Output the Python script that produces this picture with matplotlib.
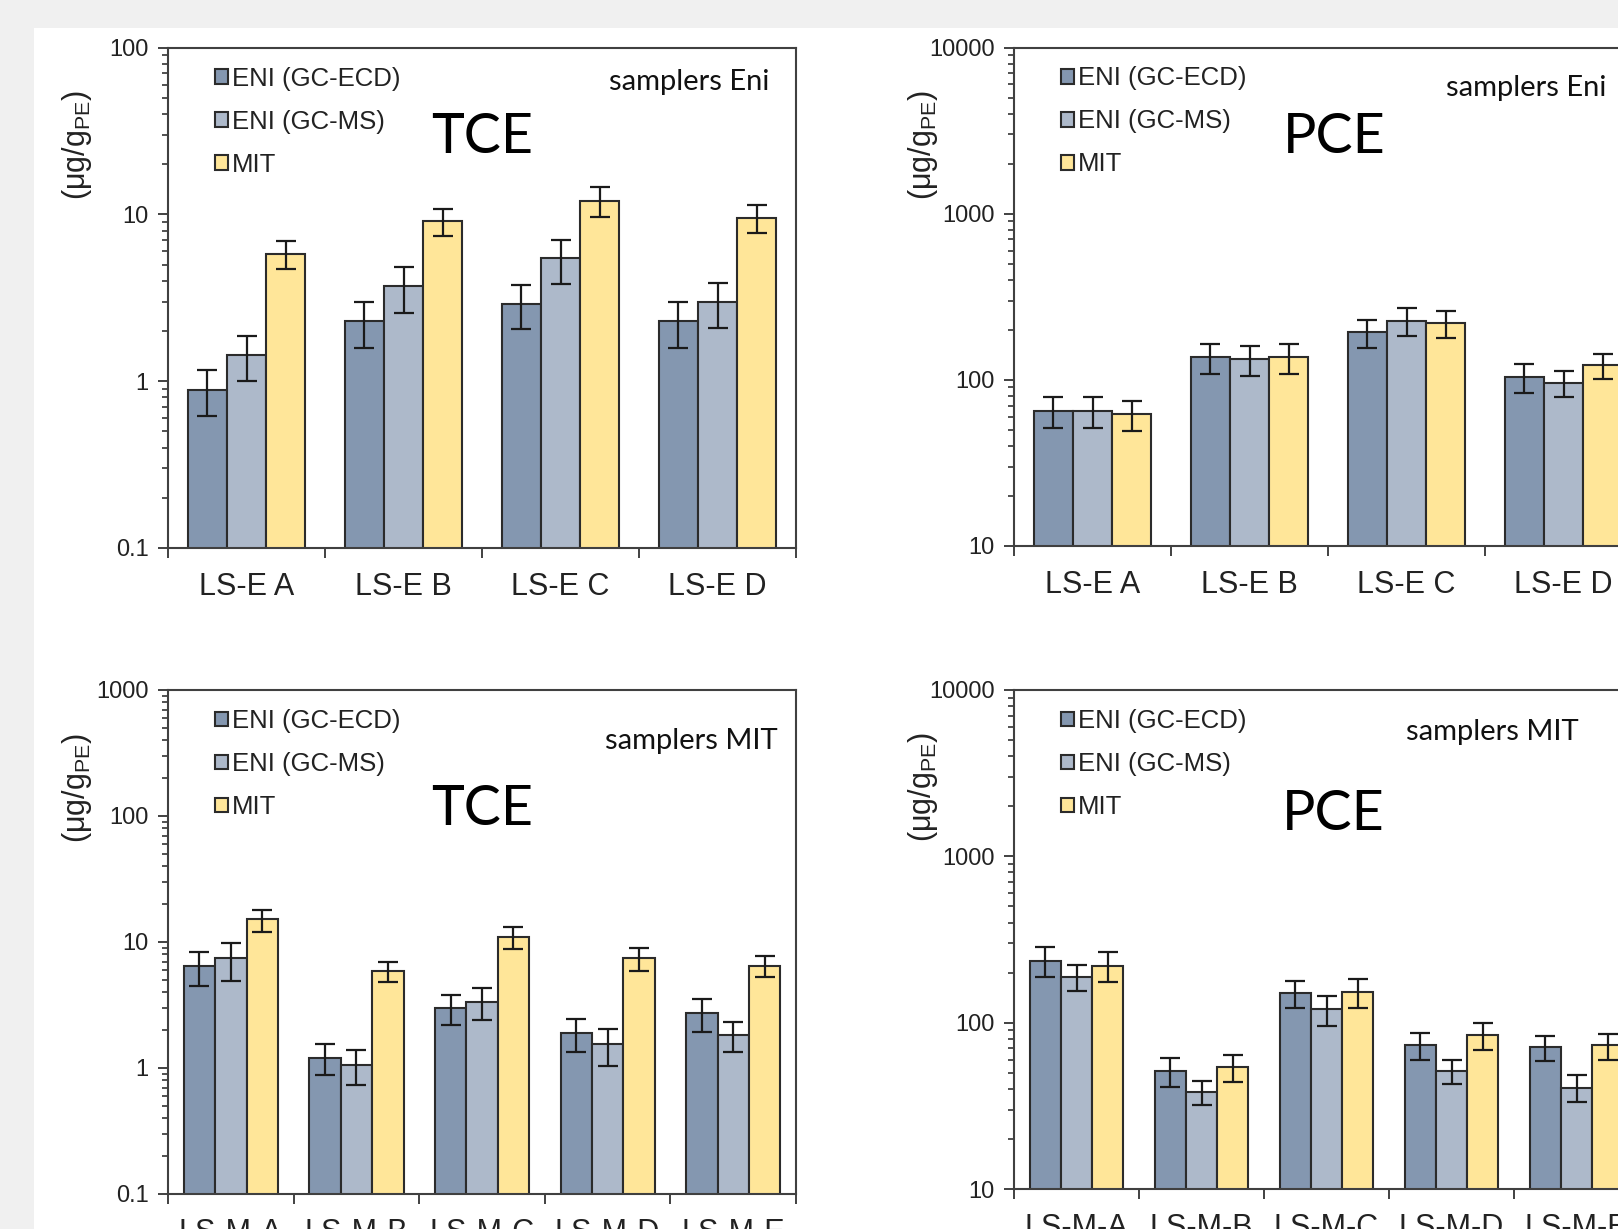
import numpy as np
import matplotlib
matplotlib.use("Agg")
from matplotlib import pyplot as plt
from matplotlib.patches import Rectangle
from matplotlib.ticker import LogLocator, FixedLocator, NullFormatter, FuncFormatter

# series names and colours
series = ["ENI (GC-ECD)", "ENI (GC-MS)", "MIT"]
colors = ["#8497b0", "#adb9ca", "#ffe699"]

# samplers Eni
cats_eni = ["LS-E A", "LS-E B", "LS-E C", "LS-E D"]
tce_eni_ecd = [0.89, 2.28, 2.91, 2.28]
tce_eni_ms = [1.43, 3.71, 5.44, 2.99]
tce_eni_mit = [5.8, 9.1, 12.1, 9.5]
tce_eni_ecd_err = [0.27, 0.7, 0.85, 0.7]
tce_eni_ms_err = [0.43, 1.15, 1.6, 0.9]
tce_eni_mit_err = [1.1, 1.7, 2.5, 1.8]

pce_eni_ecd = [65, 137, 193, 104]
pce_eni_ms = [65, 133, 226, 96]
pce_eni_mit = [62, 137, 220, 122]
pce_eni_ecd_err = [14, 28, 37, 21]
pce_eni_ms_err = [14, 27, 43, 17]
pce_eni_mit_err = [12.5, 28, 41, 21]

# samplers MIT
cats_mit = ["LS-M-A", "LS-M-B", "LS-M-C", "LS-M-D", "LS-M-E"]
tce_mit_ecd = [6.4, 1.21, 3.0, 1.9, 2.72]
tce_mit_ms = [7.4, 1.06, 3.35, 1.54, 1.83]
tce_mit_mit = [15.1, 5.9, 11.0, 7.4, 6.5]
tce_mit_ecd_err = [1.9, 0.33, 0.8, 0.55, 0.8]
tce_mit_ms_err = [2.5, 0.33, 0.95, 0.5, 0.5]
tce_mit_mit_err = [3.0, 1.1, 2.2, 1.5, 1.2]

pce_mit_ecd = [236, 51, 151, 73, 71]
pce_mit_ms = [188, 38.4, 120, 51, 40.7]
pce_mit_mit = [220, 54, 153, 84, 73]
pce_mit_ecd_err = [48, 10, 28, 13.5, 12]
pce_mit_ms_err = [34, 6.5, 25, 8.5, 7.5]
pce_mit_mit_err = [45, 10, 30, 15.5, 13]

W, H = 1618, 1229


def frac(left, top, right, bottom):
    # pixel box -> figure fraction
    return [left / W, 1 - bottom / H, (right - left) / W, (bottom - top) / H]


def panel(fig, box, cats, vals, errs, ylim, title, title_xy, note, note_xy, note_ha):
    ax = fig.add_axes(frac(*box))
    x = np.arange(len(cats))
    bw = 0.25
    for i, (v, e) in enumerate(zip(vals, errs)):
        ax.bar(x + (i - 1) * bw, v, bw, color=colors[i], edgecolor="#2b2b2b",
               linewidth=1.5, label=series[i], zorder=2)
        ax.errorbar(x + (i - 1) * bw, v, yerr=e, fmt="none", ecolor="#1a1a1a",
                    elinewidth=1.6, capsize=7, capthick=1.6, zorder=3)
    ax.set_yscale("log")
    ax.set_ylim(*ylim)
    ax.set_xlim(-0.5, len(cats) - 0.5)

    ax.yaxis.set_major_locator(LogLocator(base=10))
    ax.yaxis.set_minor_locator(LogLocator(base=10, subs=np.arange(2, 10)))
    ax.yaxis.set_major_formatter(FuncFormatter(lambda v, p: f"{v:g}"))
    ax.yaxis.set_minor_formatter(NullFormatter())
    ax.tick_params(axis="y", which="major", length=7, width=1.3, pad=7,
                   labelsize=17, colors="#333333", labelcolor="#222222")
    ax.tick_params(axis="y", which="minor", length=4.5, width=1.2, colors="#333333")

    ax.xaxis.set_major_locator(FixedLocator(np.arange(len(cats) + 1) - 0.5))
    ax.xaxis.set_major_formatter(NullFormatter())
    ax.xaxis.set_minor_locator(FixedLocator(x))
    ax.set_xticklabels(cats, minor=True)
    ax.tick_params(axis="x", which="major", length=7, width=1.3, colors="#333333")
    ax.tick_params(axis="x", which="minor", length=0, pad=17, labelsize=22,
                   labelcolor="#222222")

    for s in ax.spines.values():
        s.set_color("#404040")
        s.set_linewidth(1.5)

    ax.text(-0.145, 0.805, r"($\mathrm{\mu g/g_{PE}}$)", transform=ax.transAxes,
            rotation=90, ha="center", va="center", fontsize=22, color="#222222",
            family="Liberation Sans")
    ax.text(title_xy[0], title_xy[1], title, transform=ax.transAxes, ha="center",
            va="center", fontsize=40, family="Lato", color="black")
    ax.text(note_xy[0], note_xy[1], note, transform=ax.transAxes, ha=note_ha,
            va="center", fontsize=21, family="Lato", color="#111111")

    leg = ax.legend(loc="upper left", bbox_to_anchor=(0.075, 0.962), frameon=False,
                    fontsize=18.5, handlelength=0.5, handleheight=0.5,
                    handletextpad=0.15, labelspacing=0.74, borderpad=0,
                    borderaxespad=0)
    for t in leg.get_texts():
        t.set_color("#222222")
    return ax


def main():
    plt.rcParams["font.family"] = ["Liberation Sans", "DejaVu Sans"]
    plt.rcParams["mathtext.fontset"] = "custom"
    plt.rcParams["mathtext.rm"] = "Liberation Sans"

    fig = plt.figure(figsize=(W / 100, H / 100), dpi=100)
    fig.patch.set_facecolor("#f0f0f0")
    fig.add_artist(Rectangle((34 / W, 0), 1, 1 - 28 / H, transform=fig.transFigure,
                             facecolor="white", edgecolor="none", zorder=0))

    panel(fig, (168, 47.5, 796, 548), cats_eni,
          [tce_eni_ecd, tce_eni_ms, tce_eni_mit],
          [tce_eni_ecd_err, tce_eni_ms_err, tce_eni_mit_err],
          (0.1, 100), "TCE", (0.5, 0.82), "samplers Eni", (0.957, 0.932), "right")
    panel(fig, (1014, 47.5, 1642, 546), cats_eni,
          [pce_eni_ecd, pce_eni_ms, pce_eni_mit],
          [pce_eni_ecd_err, pce_eni_ms_err, pce_eni_mit_err],
          (10, 10000), "PCE", (0.51, 0.82), "samplers Eni", (0.944, 0.919), "right")
    panel(fig, (168, 690, 796, 1194), cats_mit,
          [tce_mit_ecd, tce_mit_ms, tce_mit_mit],
          [tce_mit_ecd_err, tce_mit_ms_err, tce_mit_mit_err],
          (0.1, 1000), "TCE", (0.5, 0.762), "samplers MIT", (0.971, 0.899), "right")
    panel(fig, (1014, 690, 1639, 1189), cats_mit,
          [pce_mit_ecd, pce_mit_ms, pce_mit_mit],
          [pce_mit_ecd_err, pce_mit_ms_err, pce_mit_mit_err],
          (10, 10000), "PCE", (0.51, 0.75), "samplers MIT", (0.627, 0.915), "left")

    fig.savefig("out.png", dpi=100, facecolor=fig.get_facecolor())
    plt.close(fig)


if __name__ == "__main__":
    main()
